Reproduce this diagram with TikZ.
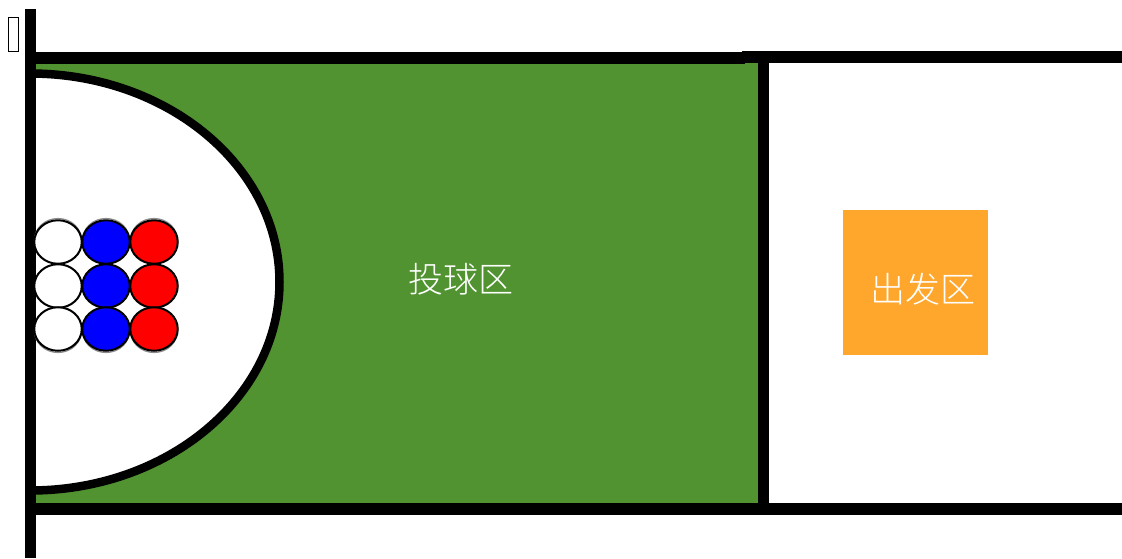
\documentclass[tikz,border=0pt]{standalone}
\usepackage{fontspec}
\newfontfamily\cjk{Noto Sans CJK SC Light}[Scale=1]
\definecolor{fieldgreen}{HTML}{519331}
\definecolor{startorange}{HTML}{FFA72C}
\tikzset{
  wall/.style={draw=black,line width=11pt,line cap=butt},
  ball/.style={ellipse,draw=black,line width=2pt,minimum width=47.5pt,minimum height=43.5pt,inner sep=0pt,outer sep=0pt},
  ballshadow/.style={draw=black!45,line width=1.2pt},
  zonelabel/.style={text=white,inner sep=0pt,font=\fontsize{35}{35}\selectfont\cjk}
}
\usetikzlibrary{shapes.geometric}
\begin{document}
\begin{tikzpicture}[x=1pt,y=-1pt]
\useasboundingbox (0,0) rectangle (1122,558);
\fill[white] (0,0) rectangle (1122,558);
% field
\fill[fieldgreen] (30,58) rectangle (763,509);
% half ellipse
\begin{scope}
\clip (30,0) rectangle (400,558);
\draw[black,line width=8.5pt,fill=white] (30,282) ellipse[x radius=249.5,y radius=208.5];
\end{scope}
% walls
\draw[wall] (30,9) -- (30,558);
\draw[wall,line width=12pt] (30,58) -- (745,58);
\draw[wall,line width=12pt] (742,57) -- (1122,57);
\draw[wall,line width=12pt] (30,509) -- (1122,509);
\draw[wall] (763.5,58) -- (763.5,509);
% shadows
\foreach \x in {58,106,154}{
  \draw[ballshadow] (\x,240) ellipse[x radius=23.5,y radius=21.5];
  \draw[ballshadow] (\x,331) ellipse[x radius=23.5,y radius=21.5];
}
% balls
\foreach \r/\y in {a/242,b/286,c/329}{
  \node[ball,fill=white] (w\r) at (58,\y) {};
  \node[ball,fill=blue] (u\r) at (106,\y) {};
  \node[ball,fill=red] (d\r) at (154,\y) {};
}
% start zone
\node[fill=startorange,minimum width=145pt,minimum height=145pt,inner sep=0pt] (start) at (915.5,282.5) {};
\node[zonelabel] (l1) at (461,279) {投球区};
\node[zonelabel] (l2) at (923,289) {出发区};
% missing-glyph box
\node[draw=black,line width=1.3pt,fill=white,minimum width=10pt,minimum height=34pt,inner sep=0pt] (box) at (13.5,34.5) {};
\end{tikzpicture}
\end{document}
